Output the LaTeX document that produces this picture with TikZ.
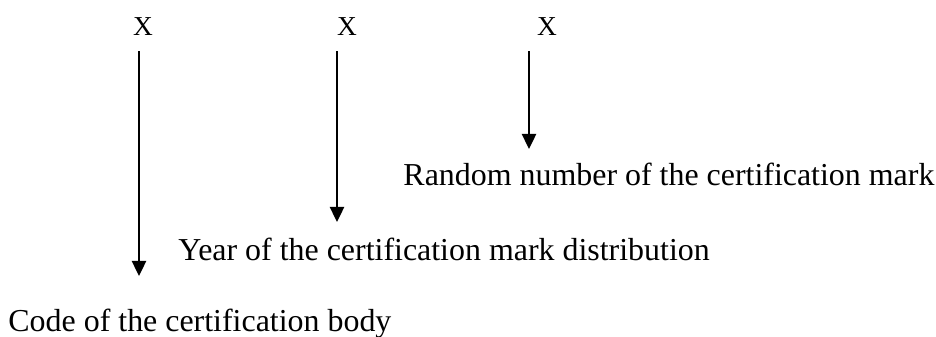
\documentclass[tikz,border=0pt]{standalone}
\usepackage{fontspec}
\setmainfont{Liberation Serif}
\usetikzlibrary{arrows.meta}
\def\lbl{\fontsize{14}{16}\selectfont}
\def\mk{\fontsize{12}{14}\selectfont}

\begin{document}
\begin{tikzpicture}[x=0.4386pt, y=-0.4386pt,
    txt/.style = {inner sep=0pt, anchor=base west},
    arr/.style = {line width=0.9pt, shorten <=7pt, -{Triangle[length=6.6pt, width=6.2pt]}}]
    \useasboundingbox (0,0) rectangle (936,336);
    % the three marks
    \node[inner sep=0pt, anchor=base] (x1) at (143,35) {\mk X};
    \node[inner sep=0pt, anchor=base] (x2) at (347,35) {\mk X};
    \node[inner sep=0pt, anchor=base] (x3) at (547,35) {\mk X};
    % labels
    \node[txt] (random) at (403,185) {\lbl Random number of the certification mark};
    \node[txt] (year) at (178,260) {\lbl Year of the certification mark distribution};
    \node[txt] (code) at (8,331) {\lbl Code of the certification body};
    % arrow tips
    \coordinate (t1) at (139,276);
    \coordinate (t2) at (337,222);
    \coordinate (t3) at (529,149);
    \draw[arr] (x1.south -| t1) -- (t1);
    \draw[arr] (x2.south -| t2) -- (t2);
    \draw[arr] (x3.south -| t3) -- (t3);
\end{tikzpicture}
\end{document}
